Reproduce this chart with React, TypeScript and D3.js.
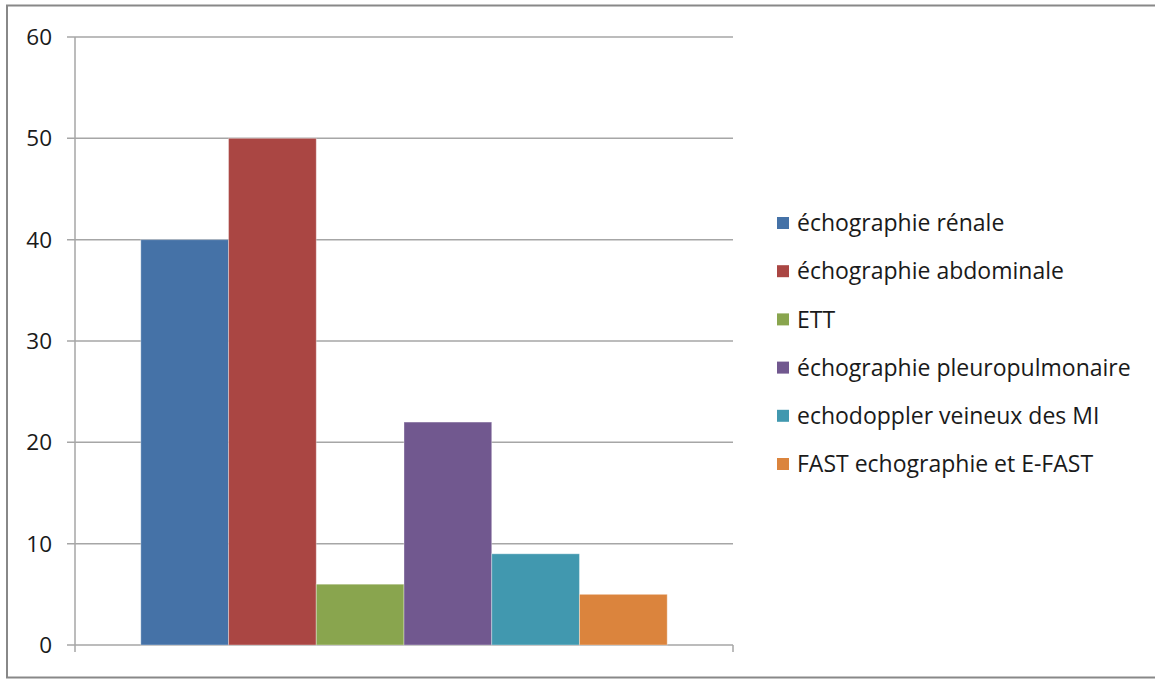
import React from "react";
import * as d3 from "d3";

const series = [
  "échographie rénale",
  "échographie abdominale",
  "ETT",
  "échographie pleuropulmonaire",
  "echodoppler veineux des MI",
  "FAST echographie et E-FAST",
];
const values = [40, 50, 6, 22, 9, 5];
const colors = ["#4572A7", "#AA4643", "#89A54E", "#71588F", "#4198AF", "#DB843D"];
const yTicks = [0, 10, 20, 30, 40, 50, 60];
const categories = [""];

export default function App() {
  const W = 1155, H = 680;
  const left = 75, right = 733, top = 37, bottom = 645;
  const y = d3.scaleLinear().domain([0, 60]).range([bottom, top]);
  const x0 = d3.scaleBand().domain(categories).range([left, right]).paddingInner(0).paddingOuter(0);
  const inner = x0.bandwidth();
  const barW = inner / (series.length + 1.5);
  const x1 = d3.scaleBand().domain(series).range([barW * 0.75, barW * 0.75 + barW * series.length]);
  const font = "'Open Sans', sans-serif";
  const grid = "#a6a6a6";
  return (
    <svg width={W} height={H} style={{ position: "absolute", left: 0, top: 0, background: "#fff" }}>
      <rect x={7} y={5.5} width={1160} height={672} fill="#fff" stroke="#888" strokeWidth={2} />
      {yTicks.map((t) => (
        <g key={t}>
          <line x1={left - 8} x2={right} y1={y(t)} y2={y(t)} stroke={grid} strokeWidth={1.5} />
          <text x={52} y={y(t)} dy="0.36em" textAnchor="end" fontFamily={font} fontSize={22.5} fill="#1a1a1a">
            {t}
          </text>
        </g>
      ))}
      <line x1={left} x2={left} y1={top} y2={bottom + 7} stroke={grid} strokeWidth={1.5} />
      <line x1={right} x2={right} y1={bottom} y2={bottom + 7} stroke={grid} strokeWidth={1.5} />
      {categories.map((c) => (
        <g key={c} transform={`translate(${x0(c)},0)`}>
          {series.map((s, i) => (
            <rect
              key={s}
              x={x1(s)}
              y={y(values[i])}
              width={x1.bandwidth()}
              height={bottom - y(values[i])}
              fill={colors[i]}
              stroke="rgba(255,255,255,0.35)"
              strokeWidth={1}
            />
          ))}
        </g>
      ))}
      {series.map((s, i) => {
        const cy = 223 + i * 48.2;
        return (
          <g key={s}>
            <rect x={777} y={cy - 6} width={12} height={12} fill={colors[i]} />
            <text x={797} y={cy} dy="0.36em" fontFamily={font} fontSize={23} fill="#1a1a1a">
              {s}
            </text>
          </g>
        );
      })}
    </svg>
  );
}
